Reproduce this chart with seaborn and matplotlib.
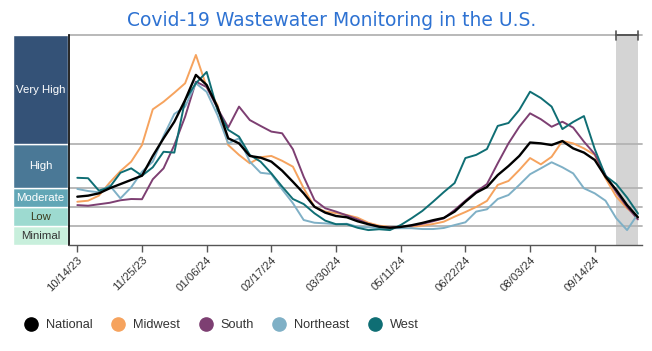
import numpy as np
import pandas as pd
import matplotlib
matplotlib.use("Agg")
import matplotlib.pyplot as plt
import matplotlib.dates as mdates
from matplotlib.lines import Line2D
import seaborn as sns

# ---------------- data (weekly, level index 0-10) ----------------
start_date = "2023-10-14"
n_weeks = 53
regions = ["National", "Midwest", "South", "Northeast", "West"]

national = [2.30, 2.35, 2.46, 2.70, 2.90, 3.10, 3.30, 4.24, 5.08, 5.87,
            6.90, 8.10, 7.62, 6.57, 5.08, 4.84, 4.24, 4.16, 3.97, 3.54,
            3.01, 2.46, 1.82, 1.54, 1.38, 1.32, 1.13, 0.99, 0.87, 0.82,
            0.86, 0.94, 1.05, 1.18, 1.29, 1.59, 2.06, 2.49, 2.76, 3.33,
            3.76, 4.24, 4.88, 4.84, 4.76, 4.95, 4.60, 4.40, 4.05, 3.25,
            2.62, 1.90, 1.32]
midwest = [2.06, 2.11, 2.35, 2.97, 3.52, 3.97, 4.76, 6.46, 6.82, 7.25,
           7.70, 9.05, 7.52, 6.67, 4.76, 4.29, 3.89, 4.18, 4.24, 4.01,
           3.73, 2.70, 1.82, 1.59, 1.52, 1.43, 1.30, 1.06, 0.92, 0.86,
           0.84, 0.87, 0.92, 1.00, 1.11, 1.35, 1.57, 1.81, 2.10, 2.86,
           3.05, 3.57, 4.14, 3.84, 4.20, 4.95, 4.84, 4.60, 4.29, 3.18,
           2.30, 1.75, 1.32]
south = [1.90, 1.87, 1.94, 2.01, 2.13, 2.19, 2.18, 3.13, 3.65, 4.76,
         6.11, 7.78, 7.52, 6.51, 5.60, 6.59, 5.95, 5.67, 5.40, 5.32,
         4.56, 3.25, 2.14, 1.75, 1.59, 1.41, 1.22, 1.00, 0.87, 0.84,
         0.86, 0.92, 1.01, 1.13, 1.27, 1.67, 2.11, 2.54, 2.90, 3.89,
         4.84, 5.63, 6.27, 5.99, 5.63, 5.87, 5.59, 4.92, 4.33, 3.33,
         2.51, 1.82, 1.22]
northeast = [2.67, 2.57, 2.51, 2.84, 2.22, 2.75, 3.49, 3.97, 5.19, 6.24,
             6.59, 7.70, 7.29, 6.19, 4.84, 5.08, 3.97, 3.44, 3.38, 2.65,
             1.99, 1.19, 1.06, 1.03, 0.99, 1.01, 0.87, 0.84, 0.81, 0.80,
             0.80, 0.80, 0.76, 0.76, 0.81, 0.95, 1.08, 1.59, 1.70, 2.19,
             2.38, 2.86, 3.37, 3.65, 3.94, 3.70, 3.41, 2.70, 2.46, 2.11,
             1.27, 0.71, 1.48]
west = [3.20, 3.18, 2.59, 2.75, 3.44, 3.65, 3.30, 3.70, 4.44, 4.40,
        6.90, 7.70, 8.24, 6.43, 5.48, 5.16, 4.29, 3.97, 3.41, 2.78,
        2.19, 1.95, 1.51, 1.16, 0.99, 0.99, 0.82, 0.71, 0.75, 0.71,
        0.95, 1.27, 1.62, 2.06, 2.52, 2.95, 4.14, 4.29, 4.57, 5.67,
        5.81, 6.43, 7.30, 7.00, 6.59, 5.52, 5.86, 6.14, 4.57, 3.29,
        2.90, 2.26, 1.51]

level_names = ["Minimal", "Low", "Moderate", "High", "Very High"]
level_edges = [0, 0.9, 1.8, 2.7, 4.8, 10]
tick_dates = ["2023-10-14", "2023-11-25", "2024-01-06", "2024-02-17", "2024-03-30",
              "2024-05-11", "2024-06-22", "2024-08-03", "2024-09-14"]
provisional = ["2024-09-28", "2024-10-12"]
title = "Covid-19 Wastewater Monitoring in the U.S."

# ---------------- styles ----------------
line_colors = {"National": "#000000", "Midwest": "#f6a35e", "South": "#7d3f72",
               "Northeast": "#7fb0c6", "West": "#0f6e74"}
line_widths = {"National": 1.7, "Midwest": 1.4, "South": 1.4, "Northeast": 1.4, "West": 1.4}
band_colors = ["#c8efdc", "#9ddad0", "#62a6b6", "#4a7896", "#345277"]
band_text = ["#333333", "#3d3d1f", "white", "white", "white"]

sns.set_theme(style="white")
plt.rcParams["font.family"] = ["Liberation Sans", "DejaVu Sans"]

dates = pd.date_range(start_date, periods=n_weeks, freq="7D")
series = {"National": national, "Midwest": midwest, "South": south,
          "Northeast": northeast, "West": west}
df = pd.concat([pd.DataFrame({"date": dates, "level": v, "region": k})
                for k, v in series.items()], ignore_index=True)

W, H = 652, 351
fig = plt.figure(figsize=(W / 100, H / 100), dpi=100)
x0, x1, ytop, ybot = 69, 641.7, 35, 245
ax = fig.add_axes([x0 / W, 1 - ybot / H, (x1 - x0) / W, (ybot - ytop) / H])

t0 = pd.Timestamp(start_date)
ax.set_xlim(t0 - pd.Timedelta(days=5.4), t0 + pd.Timedelta(days=366.5))
ax.set_ylim(level_edges[0], level_edges[-1])

# provisional band
ps, pe = pd.Timestamp(provisional[0]), pd.Timestamp(provisional[1])
ax.axvspan(ps, pe, color="#d4d4d4", zorder=0, lw=0)

# level lines
for e in level_edges[1:]:
    ax.axhline(e, color="#b3b3b3", lw=1.3, zorder=0.5, clip_on=False)

order = ["Midwest", "South", "Northeast", "West", "National"]
for r in order:
    sns.lineplot(data=df[df["region"] == r], x="date", y="level",
                 color=line_colors[r], linewidth=line_widths[r], ax=ax,
                 legend=False, errorbar=None, zorder=3)

# bracket over provisional range
ax.plot([ps, pe], [level_edges[-1]] * 2, color="#555555", lw=1.4, clip_on=False, zorder=4)
for d in (ps, pe):
    ax.plot([d, d], [level_edges[-1] - 0.22, level_edges[-1] + 0.2], color="#555555",
            lw=1.2, clip_on=False, zorder=4)

for s in ("top", "right"):
    ax.spines[s].set_visible(False)
ax.spines["left"].set_color("black")
ax.spines["left"].set_linewidth(1.2)
ax.spines["bottom"].set_color("#555555")
ax.spines["bottom"].set_linewidth(1.0)
ax.set_yticks([])
ax.set_xticks(pd.to_datetime(tick_dates))
ax.xaxis.set_major_formatter(mdates.DateFormatter("%m/%d/%y"))
ax.tick_params(axis="x", bottom=True, length=5, width=1, color="#555555",
               labelsize=8.2, labelcolor="#333333", pad=2)
for lab in ax.get_xticklabels():
    lab.set_rotation(45)
    lab.set_ha("right")
    lab.set_rotation_mode("anchor")
ax.set_xlabel("")
ax.set_ylabel("")

# level bands on the left
axb = fig.add_axes([13 / W, 1 - ybot / H, (68 - 13) / W, (ybot - ytop) / H])
lows = level_edges[:-1]
heights = np.diff(level_edges)
axb.bar([0] * len(lows), heights, bottom=lows, width=1.0, color=band_colors,
        edgecolor="white", linewidth=1.0)
axb.set_xlim(-0.5, 0.5)
axb.set_ylim(level_edges[0], level_edges[-1])
axb.axis("off")
for name, lo, h, tc in zip(level_names, lows, heights, band_text):
    axb.text(0, lo + h / 2, name, ha="center", va="center", color=tc, fontsize=8.2)

# title
fig.text(332 / W, 1 - 20 / H, title, ha="center", va="center",
         color="#2e72d2", fontsize=13.5, family=["DejaVu Sans"])

# legend
handles = [Line2D([], [], marker="o", linestyle="", markersize=9.5,
                  markerfacecolor=line_colors[r], markeredgecolor=line_colors[r])
           for r in regions]
fig.legend(handles, regions, loc="center left", bbox_to_anchor=(24.6 / W, 1 - 325 / H),
           ncol=5, frameon=False, fontsize=9.2, handlelength=1.0, handletextpad=0.67,
           columnspacing=1.5, borderpad=0, borderaxespad=0, labelcolor="#333333")

fig.savefig("out.png", dpi=100)
